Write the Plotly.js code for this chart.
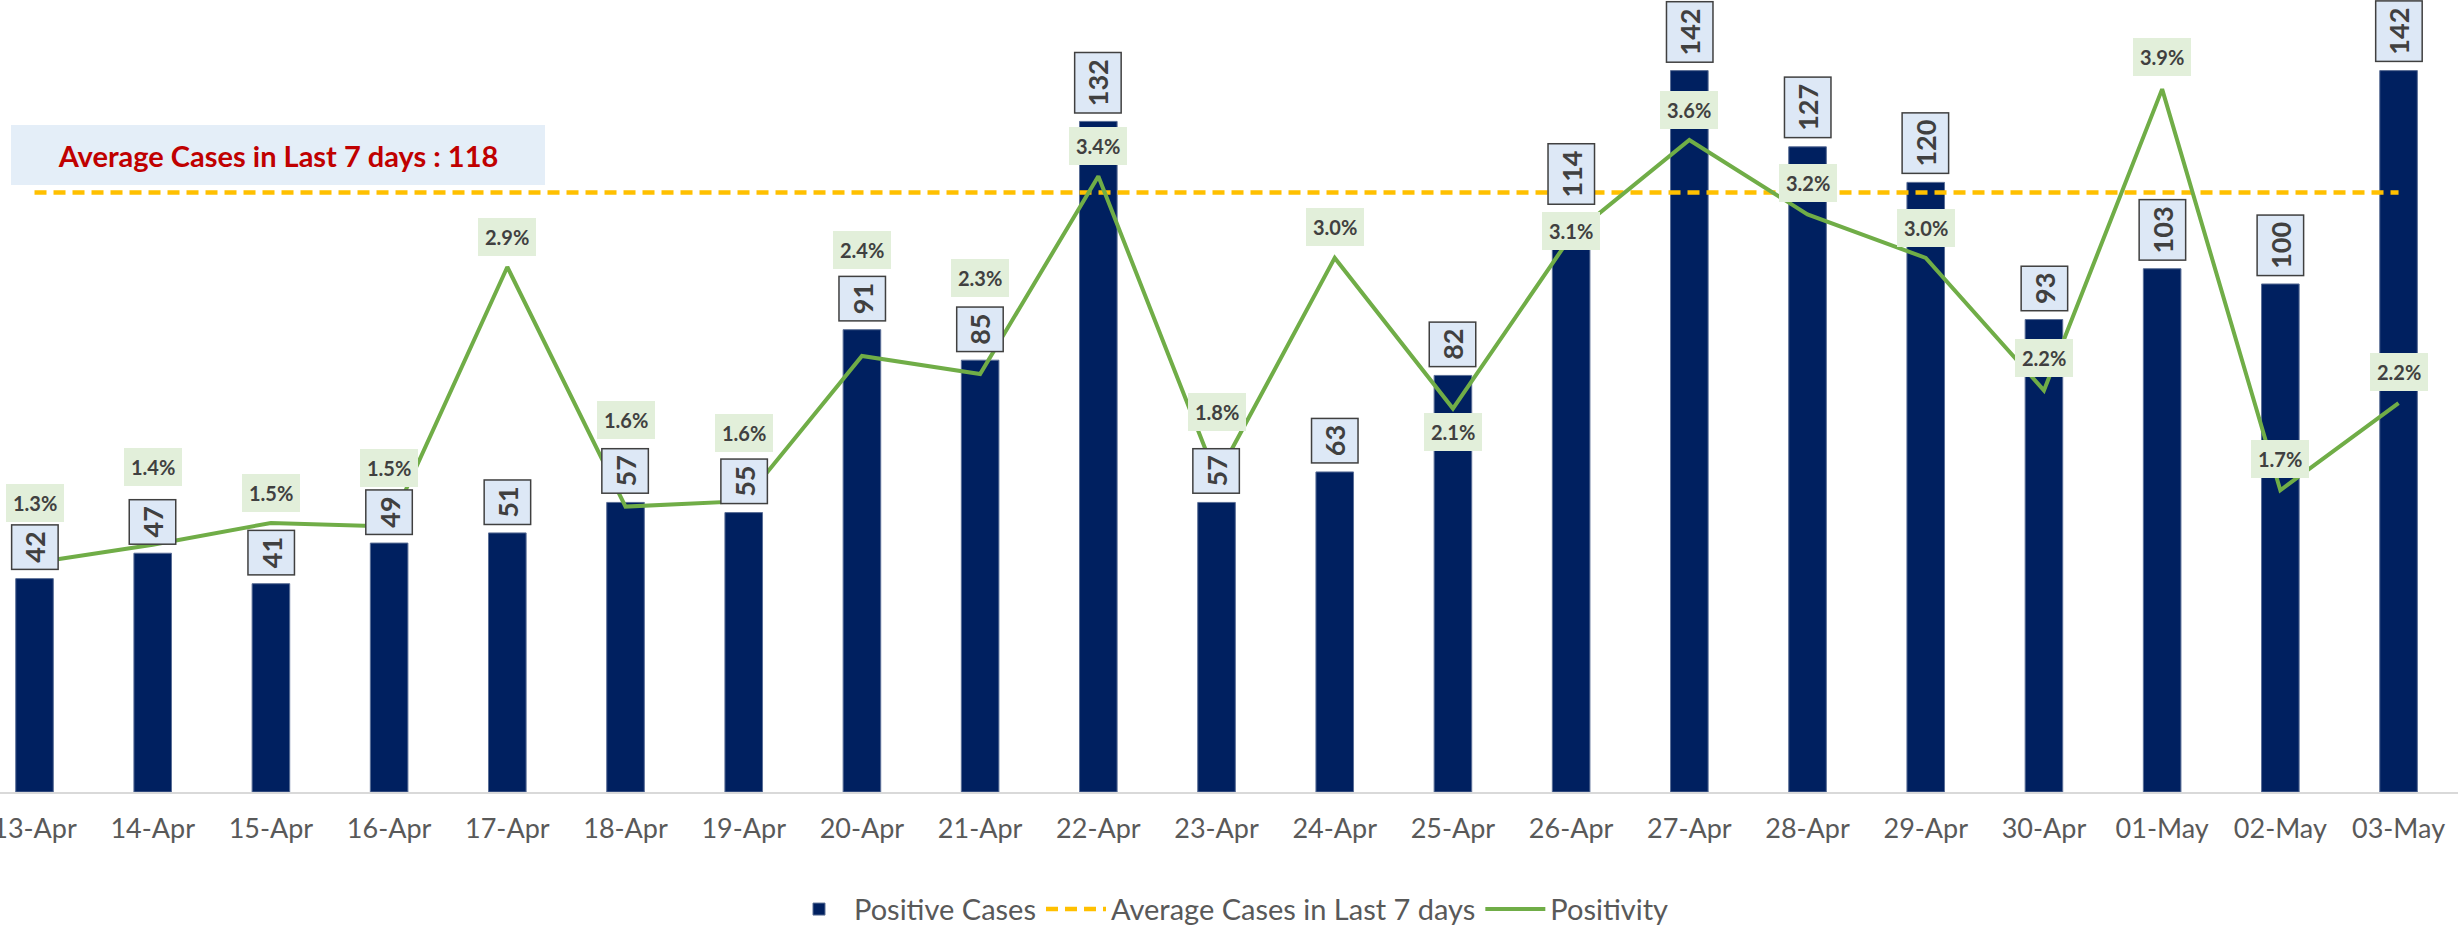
<!DOCTYPE html>
<html>
<head>
<meta charset="utf-8">
<script src="https://cdn.plot.ly/plotly-3.0.1.min.js"></script>
<style>
  html, body { margin: 0; padding: 0; background: #ffffff; }
  #chart { width: 2458px; height: 936px; }
</style>
</head>
<body>
<div id="chart"></div>
<script>
// ---- data ----
const dates = ['13-Apr','14-Apr','15-Apr','16-Apr','17-Apr','18-Apr','19-Apr','20-Apr','21-Apr','22-Apr',
               '23-Apr','24-Apr','25-Apr','26-Apr','27-Apr','28-Apr','29-Apr','30-Apr','01-May','02-May','03-May'];
const positiveCases = [42, 47, 41, 49, 51, 57, 55, 91, 85, 132, 57, 63, 82, 114, 142, 127, 120, 93, 103, 100, 142];
const avgCases7d = [118, 118, 118, 118, 118, 118, 118, 118, 118, 118, 118, 118, 118, 118, 118, 118, 118, 118, 118, 118, 118];
const positivity = [1.29, 1.39, 1.51, 1.49, 2.92, 1.60, 1.63, 2.43, 2.33, 3.42, 1.76, 2.97, 2.14, 3.09, 3.62, 3.21, 2.97, 2.24, 3.90, 1.69, 2.17];
const avgLabel = 'Average Cases in Last 7 days : 118';
const seriesNames = ['Positive Cases', 'Average Cases in Last 7 days', 'Positivity'];

// ---- label placement (pixels above the point) ----
const pctLabelShift = [60, 78, 30, 59, 30, 87, 68, 106, 96, 30, 66, 31, -23, 5, 30, 31, 30, 32, 32, 31, 31];

const FONT = 'Lato, "Open Sans", "DejaVu Sans", sans-serif';

const traces = [
  {
    type: 'bar', x: dates, y: positiveCases, name: seriesNames[0],
    width: 0.318,
    marker: { color: '#002060', line: { color: '#5a6e96', width: 1 } },
    hoverinfo: 'x+y'
  },
  {
    type: 'scatter', mode: 'lines', x: dates, y: avgCases7d, name: seriesNames[1],
    line: { color: '#ffc000', width: 4.5, dash: '12px,7px' },
    hoverinfo: 'x+y'
  },
  {
    type: 'scatter', mode: 'lines', x: dates, y: positivity, name: seriesNames[2], yaxis: 'y2',
    line: { color: '#70ad47', width: 4 },
    hoverinfo: 'x+y'
  }
];

const annotations = [];
positiveCases.forEach((v, i) => {
  annotations.push({
    x: dates[i], y: v, xref: 'x', yref: 'y',
    text: String(v), textangle: -90, showarrow: false,
    xanchor: 'center', yanchor: 'bottom', yshift: 8,
    font: { family: FONT, size: 27, color: '#404040', weight: 700 },
    bgcolor: '#dde8f6', bordercolor: '#404040', borderwidth: 1.5, borderpad: 6
  });
});
positivity.forEach((p, i) => {
  annotations.push({
    x: dates[i], y: p, xref: 'x', yref: 'y2',
    text: p.toFixed(1) + '%', showarrow: false,
    xanchor: 'center', yanchor: 'middle', yshift: pctLabelShift[i],
    font: { family: FONT, size: 20, color: '#404040', weight: 700 },
    bgcolor: '#e2efda', borderwidth: 0, borderpad: 7
  });
});
annotations.push({
  xref: 'paper', yref: 'paper', x: 278 / 2458, y: 1 - 155 / 792,
  xanchor: 'center', yanchor: 'middle',
  text: avgLabel, showarrow: false, width: 534, height: 60,
  bgcolor: '#e4eef8', borderpad: 0, borderwidth: 0,
  font: { family: FONT, size: 29, color: '#c00000', weight: 700 }
});

const layout = {
  width: 2458, height: 936,
  margin: { l: 0, r: 0, t: 0, b: 144, pad: 0, autoexpand: false },
  paper_bgcolor: '#ffffff', plot_bgcolor: '#ffffff',
  font: { family: FONT, color: '#595959' },
  bargap: 0.68,
  showlegend: true,
  xaxis: {
    type: 'category', range: [-0.292, 20.503], automargin: false,
    showline: true, linecolor: '#d9d9d9', linewidth: 2,
    ticks: '', showgrid: false, zeroline: false,
    tickfont: { family: FONT, size: 27, color: '#595959' },
    ticklabelstandoff: 12
  },
  yaxis: { range: [0, 155.9], visible: false, showgrid: false, zeroline: false },
  yaxis2: { range: [0.0275, 4.391], overlaying: 'y', side: 'right', visible: false, showgrid: false, zeroline: false },
  legend: {
    orientation: 'h', x: 0.5, xanchor: 'center', y: -0.148, yanchor: 'middle',
    font: { family: FONT, size: 29, color: '#595959' },
    itemwidth: 60,
    traceorder: 'normal'
  },
  annotations: annotations
};

Plotly.newPlot('chart', traces, layout, { staticPlot: true, displayModeBar: false });
</script>
</body>
</html>
